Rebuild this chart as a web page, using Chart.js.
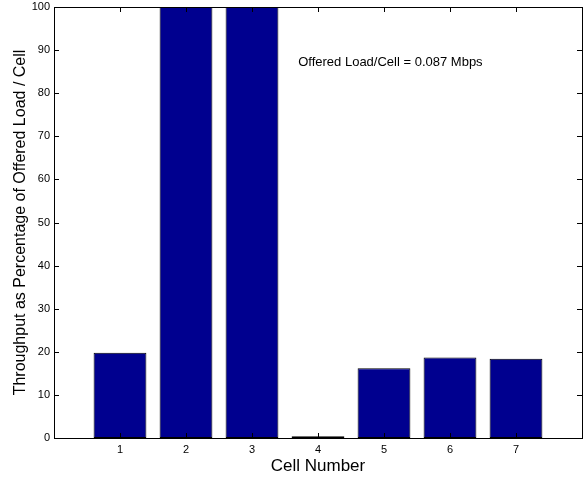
<!DOCTYPE html>
<html>
<head>
<meta charset="utf-8">
<script src="https://cdn.jsdelivr.net/npm/chart.js@4"></script>
<style>
  html, body { margin: 0; padding: 0; background: #fff; }
  #wrap { width: 586px; height: 477px; }
</style>
</head>
<body>
<div id="wrap"><canvas id="c" width="586" height="477"></canvas></div>
<script>
// Cell numbers and throughput (% of offered load) per cell
const cells = [1, 2, 3, 4, 5, 6, 7];
const throughputPct = [19.8, 100, 100, 0.4, 16.2, 18.7, 18.4];
const yTicks = [0, 10, 20, 30, 40, 50, 60, 70, 80, 90, 100];
const noteText = 'Offered Load/Cell = 0.087 Mbps';

const FONT = 'Liberation Sans, Arial, Helvetica, sans-serif';

// Box around the plot area with inward tick marks on all four sides
const boxTicks = {
  id: 'boxTicks',
  afterDatasetsDraw(chart) {
    const { ctx, chartArea: a, scales: { x, y } } = chart;
    const len = 5;
    ctx.save();
    ctx.strokeStyle = '#000';
    ctx.lineWidth = 1;
    ctx.beginPath();
    x.ticks.forEach(t => {
      const px = Math.round(x.getPixelForValue(t.value)) + 0.5;
      ctx.moveTo(px, a.bottom); ctx.lineTo(px, a.bottom - len);
      ctx.moveTo(px, a.top); ctx.lineTo(px, a.top + len);
    });
    y.ticks.forEach(t => {
      const py = Math.round(y.getPixelForValue(t.value)) + 0.5;
      ctx.moveTo(a.left, py); ctx.lineTo(a.left + len, py);
      ctx.moveTo(a.right, py); ctx.lineTo(a.right - len, py);
    });
    ctx.stroke();
    ctx.strokeRect(Math.round(a.left) + 0.5, Math.round(a.top) + 0.5,
                   Math.round(a.right - a.left), Math.round(a.bottom - a.top));
    // annotation
    ctx.fillStyle = '#000';
    ctx.font = '13px ' + FONT;
    ctx.textAlign = 'left';
    ctx.textBaseline = 'middle';
    ctx.fillText(noteText, x.getPixelForValue(3.7), y.getPixelForValue(87.2));
    ctx.restore();
  }
};

new Chart(document.getElementById('c'), {
  type: 'bar',
  data: {
    datasets: [{
      data: cells.map((c, i) => ({ x: c, y: throughputPct[i] })),
      backgroundColor: '#00008f',
      borderColor: '#000',
      borderWidth: 1,
      borderSkipped: false,
      barPercentage: 0.8,
      categoryPercentage: 1.0
    }]
  },
  options: {
    responsive: false,
    animation: false,
    layout: { padding: { left: 0, right: 4, top: 0, bottom: 0 } },
    plugins: { legend: { display: false }, tooltip: { enabled: false } },
    scales: {
      x: {
        type: 'linear',
        offset: false,
        min: 0, max: 8,
        afterBuildTicks(s) { s.ticks = cells.map(v => ({ value: v })); },
        afterFit(s) { s.height = 39; },
        grid: { display: false, drawTicks: false, offset: false },
        border: { display: false },
        ticks: { color: '#000', font: { family: FONT, size: 11 }, padding: 5, maxRotation: 0 },
        title: { display: true, text: 'Cell Number', color: '#000', font: { family: FONT, size: 17 }, padding: { top: 0, bottom: 0 } }
      },
      y: {
        min: 0, max: 100,
        afterBuildTicks(s) { s.ticks = yTicks.map(v => ({ value: v })); },
        afterFit(s) { s.width = 54; s.paddingTop = 7; s.paddingBottom = 0; },
        grid: { display: false, drawTicks: false },
        border: { display: false },
        ticks: { color: '#000', font: { family: FONT, size: 11 }, padding: 4 },
        title: { display: true, text: 'Throughput as Percentage of Offered Load / Cell', color: '#000', font: { family: FONT, size: 16 }, padding: { top: 11, bottom: 0 } }
      }
    }
  },
  plugins: [boxTicks]
});
</script>
</body>
</html>
